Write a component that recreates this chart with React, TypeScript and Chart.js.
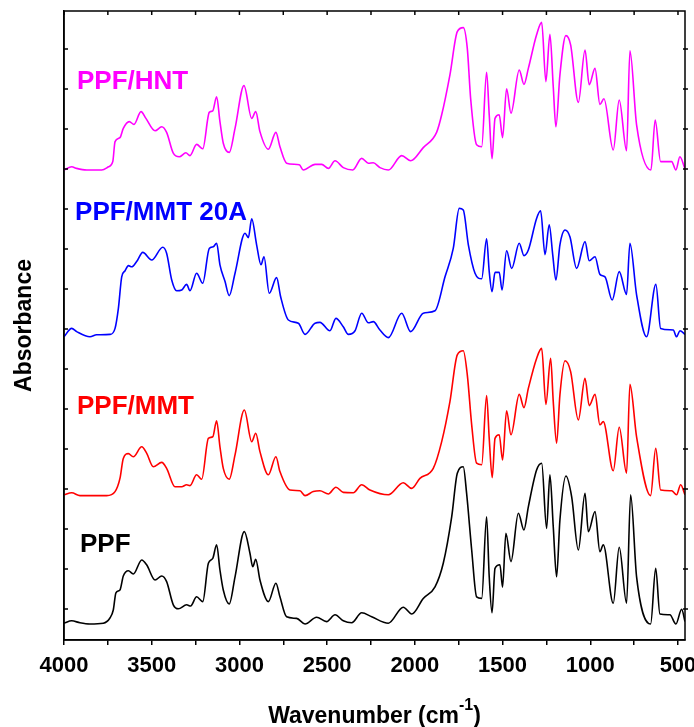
import React, { useEffect, useRef } from "react";
import { Chart, registerables } from "chart.js";

Chart.register(...registerables);

const FONT = "'Liberation Sans', Arial, Helvetica, sans-serif";

// ---- Data (wavenumber in cm-1, absorbance in offset arbitrary units) ----
const ppfWave = [4000,3956,3909,3852,3776,3738,3719,3704,3681,3662,3633,3605,3557,3529,3481,3443,3415,3377,3348,3301,3278,3244,3209,3177,3152,3130,3111,3092,3058,3025,2972,2940,2924,2907,2883,2835,2792,2769,2731,2674,2626,2560,2503,2455,2408,2360,2303,2246,2151,2066,2018,1952,1885,1838,1790,1758,1724,1705,1676,1648,1619,1591,1576,1560,1543,1515,1500,1481,1452,1410,1378,1353,1306,1277,1249,1230,1211,1192,1173,1139,1106,1068,1030,1011,973,945,926,869,835,793,770,736,656,627,603,546,512,479,460];
const ppfAbs = [0.42,0.48,0.43,0.40,0.42,0.55,0.75,1.18,1.25,1.60,1.73,1.65,2.00,1.88,1.50,1.60,1.46,0.88,0.78,0.88,0.85,1.08,0.96,1.92,2.04,2.38,1.75,1.25,0.90,1.58,2.71,2.17,1.83,2.02,1.50,0.96,1.42,1.08,0.58,0.54,0.40,0.57,0.46,0.63,0.48,0.43,0.68,0.58,0.42,0.82,0.65,1.04,1.33,1.92,3.08,4.17,4.33,3.67,2.25,1.08,1.04,3.08,1.58,0.68,1.79,1.88,1.32,2.67,1.96,3.17,2.75,3.33,4.25,4.42,2.79,4.13,2.83,1.58,3.00,4.10,3.58,2.25,3.67,2.71,3.21,2.21,2.38,0.92,2.32,0.92,3.63,1.58,0.40,1.79,0.65,0.63,0.40,0.77,0.46];

const mmtWave = [4000,3956,3909,3757,3709,3681,3662,3633,3605,3557,3529,3491,3443,3415,3367,3329,3301,3282,3244,3215,3177,3152,3130,3111,3092,3058,3025,2972,2930,2907,2883,2835,2792,2769,2712,2655,2626,2579,2541,2493,2450,2408,2351,2303,2256,2151,2066,2018,1971,1895,1847,1800,1758,1724,1701,1676,1648,1619,1591,1576,1559,1543,1519,1500,1477,1452,1405,1378,1353,1306,1277,1253,1226,1211,1192,1173,1144,1112,1068,1030,1006,973,945,926,869,835,793,774,736,656,627,599,536,508,485,460];
const mmtAbs = [3.63,3.68,3.61,3.61,3.71,4.04,4.54,4.66,4.58,4.83,4.67,4.33,4.44,4.29,3.83,3.83,3.88,3.86,4.13,4.02,5.04,5.08,5.48,4.83,4.29,4.02,4.63,5.75,4.96,5.17,4.71,4.13,4.58,4.21,3.75,3.73,3.61,3.71,3.73,3.65,3.82,3.69,3.68,3.88,3.75,3.63,3.93,3.79,4.04,4.29,4.96,5.96,7.13,7.23,6.63,5.38,4.42,4.38,6.11,5.04,4.06,5.04,5.13,4.50,5.73,5.13,6.14,5.81,6.29,7.04,7.29,5.89,7.04,5.96,4.92,6.13,6.98,6.71,5.50,6.54,5.86,6.14,5.38,5.46,4.23,5.32,4.17,6.39,5.08,3.61,4.79,3.75,3.73,3.63,3.88,3.63];

const mmt20aWave = [4000,3956,3928,3852,3814,3738,3709,3690,3671,3652,3633,3614,3586,3551,3500,3437,3415,3386,3358,3329,3301,3282,3244,3209,3172,3149,3130,3111,3082,3058,3025,2968,2949,2930,2902,2877,2860,2830,2788,2765,2721,2664,2626,2569,2541,2484,2450,2408,2379,2341,2303,2265,2237,2199,2151,2075,2024,1952,1885,1828,1781,1747,1724,1695,1657,1619,1591,1576,1560,1543,1519,1503,1477,1448,1405,1378,1353,1306,1283,1258,1234,1214,1196,1173,1144,1116,1078,1030,1006,973,945,916,875,835,793,774,736,679,626,599,527,508,489,460];
const mmt20aAbs = [7.58,7.79,7.71,7.58,7.63,7.64,7.79,8.29,9.08,9.23,9.36,9.33,9.46,9.69,9.50,9.82,9.67,9.00,8.73,8.75,8.89,8.73,9.17,8.92,9.79,9.83,9.92,9.38,8.96,8.61,9.17,10.17,10.06,10.53,9.88,9.38,9.58,8.67,9.06,8.58,8.00,7.92,7.64,7.92,7.94,7.73,8.04,7.83,7.64,7.73,8.17,7.93,7.96,7.75,7.56,8.17,7.71,8.17,8.23,9.08,9.79,10.79,10.75,9.88,9.17,9.03,10.03,9.21,8.71,9.19,9.19,8.75,9.73,9.29,9.92,9.61,9.75,10.54,10.73,9.63,10.38,9.63,9.00,9.88,10.25,10.08,9.29,9.96,9.48,9.58,9.14,9.08,8.50,9.21,8.64,9.92,8.63,7.58,8.89,7.79,7.75,7.58,7.73,7.64];

const hntWave = [4000,3956,3928,3871,3785,3747,3722,3709,3681,3662,3628,3601,3561,3533,3481,3443,3415,3377,3343,3305,3282,3244,3209,3172,3152,3130,3111,3092,3058,3025,2974,2930,2907,2883,2835,2792,2769,2731,2659,2636,2569,2531,2493,2455,2408,2354,2303,2265,2237,2199,2151,2075,2024,1952,1876,1847,1800,1758,1724,1701,1682,1648,1619,1591,1576,1560,1543,1519,1500,1477,1452,1405,1378,1353,1306,1277,1253,1230,1211,1196,1173,1139,1112,1068,1030,1006,973,945,922,869,835,793,774,736,654,630,599,536,512,489,460];
const hntAbs = [11.75,11.83,11.79,11.75,11.75,11.83,11.96,12.46,12.56,12.79,12.96,12.89,13.21,13.04,12.73,12.83,12.69,12.17,12.08,12.18,12.11,12.39,12.28,13.19,13.23,13.58,12.96,12.42,12.19,12.79,13.86,13.04,13.21,12.71,12.27,12.69,12.33,11.92,11.88,11.75,11.89,11.89,11.79,11.98,11.81,11.75,12.04,11.92,11.93,11.81,11.75,12.11,11.98,12.31,12.69,13.13,14.13,15.21,15.31,14.79,13.54,12.38,12.33,14.19,13.13,12.03,13.04,13.13,12.56,13.78,13.17,14.25,13.89,14.29,15.13,15.44,13.96,15.14,13.83,12.83,14.13,15.11,14.88,13.44,14.75,13.88,14.29,13.39,13.53,12.25,13.50,12.23,14.73,12.88,11.75,13.00,11.96,11.96,11.75,12.08,11.78];

const seriesNames = ["PPF", "PPF/MMT", "PPF/MMT 20A", "PPF/HNT"];
const seriesColors = ["#000000", "#ff0000", "#0000ff", "#ff00ff"];

const xTickValues = [500,750,1000,1250,1500,1750,2000,2250,2500,2750,3000,3250,3500,3750,4000];
const xLabelValues = [500,1000,1500,2000,2500,3000,3500,4000];
const yTickValues = [0.775,1.775,2.775,3.775,4.775,5.775,6.775,7.775,8.775,9.775,10.775,11.775,12.775,13.775,14.775];

// label anchors (wavenumber, absorbance) for the in-plot series names
const labelAnchors = [
  [3909, 2.38],
  [3926, 5.83],
  [3937, 10.68],
  [3926, 13.95],
];

const toPoints = (w: number[], a: number[]) => w.map((x, i) => ({ x, y: a[i] }));

const decorPlugin = {
  id: "decor",
  afterDraw(chart: any) {
    const { ctx, chartArea, scales } = chart;
    const { left, right, top, bottom } = chartArea;
    const xs = scales.x;
    const ys = scales.y;
    ctx.save();
    ctx.strokeStyle = "#000";
    ctx.lineWidth = 1.5;
    ctx.strokeRect(left, top, right - left, bottom - top);
    // top ticks (inward)
    xs.ticks.forEach((t: any) => {
      const px = xs.getPixelForValue(t.value);
      ctx.beginPath();
      ctx.moveTo(px, top);
      ctx.lineTo(px, top + 4);
      ctx.stroke();
    });
    // left/right ticks
    ys.ticks.forEach((t: any) => {
      const py = ys.getPixelForValue(t.value);
      ctx.beginPath();
      ctx.moveTo(left, py);
      ctx.lineTo(left + 4, py);
      ctx.moveTo(right - 2, py);
      ctx.lineTo(right + 3, py);
      ctx.stroke();
    });
    // series labels
    ctx.font = `bold 26px ${FONT}`;
    ctx.textBaseline = "middle";
    ctx.textAlign = "left";
    seriesNames.forEach((name, i) => {
      ctx.fillStyle = seriesColors[i];
      ctx.fillText(name, xs.getPixelForValue(labelAnchors[i][0]), ys.getPixelForValue(labelAnchors[i][1]));
    });
    // x axis title with superscript
    const main = "Wavenumber (cm";
    const sup = "-1";
    const tail = ")";
    const mainFont = `bold 23px ${FONT}`;
    const supFont = `bold 16px ${FONT}`;
    ctx.fillStyle = "#000";
    ctx.textBaseline = "alphabetic";
    ctx.font = mainFont;
    const wMain = ctx.measureText(main).width;
    const wTail = ctx.measureText(tail).width;
    ctx.font = supFont;
    const wSup = ctx.measureText(sup).width;
    const total = wMain + wSup + wTail;
    const x0 = (left + right) / 2 - total / 2;
    const base = 723;
    ctx.font = mainFont;
    ctx.fillText(main, x0, base);
    ctx.font = supFont;
    ctx.fillText(sup, x0 + wMain, base - 13);
    ctx.font = mainFont;
    ctx.fillText(tail, x0 + wMain + wSup, base);
    ctx.restore();
  },
};

export default function App() {
  const ref = useRef<HTMLCanvasElement | null>(null);
  useEffect(() => {
    if (!ref.current) return;
    const datasets = [
      toPoints(ppfWave, ppfAbs),
      toPoints(mmtWave, mmtAbs),
      toPoints(mmt20aWave, mmt20aAbs),
      toPoints(hntWave, hntAbs),
    ].map((data, i) => ({
      label: seriesNames[i],
      data,
      borderColor: seriesColors[i],
      backgroundColor: seriesColors[i],
      borderWidth: 1.6,
      pointRadius: 0,
      cubicInterpolationMode: "monotone",
      fill: false,
    }));
    const chart = new Chart(ref.current, {
      type: "line",
      data: { datasets },
      options: {
        animation: false,
        responsive: false,
        devicePixelRatio: 1,
        layout: { padding: { left: 0, right: 9, top: 11, bottom: 0 } },
        plugins: { legend: { display: false }, tooltip: { enabled: false } },
        scales: {
          x: {
            type: "linear",
            reverse: true,
            min: 460,
            max: 4000,
            afterBuildTicks: (s: any) => {
              s.ticks = xTickValues.map((v) => ({ value: v }));
            },
            afterFit: (s: any) => {
              s.height = 87;
            },
            ticks: {
              autoSkip: false,
              maxRotation: 0,
              padding: 8,
              color: "#000",
              font: { family: FONT, size: 22, weight: "bold" },
              callback: (v: any) => (xLabelValues.includes(Number(v)) ? String(v) : ""),
            },
            grid: { drawOnChartArea: false, drawTicks: true, tickLength: 5, color: "#000", lineWidth: 1.5 },
            border: { display: true, color: "#000", width: 1.5 },
            title: { display: false },
          },
          y: {
            type: "linear",
            min: 0,
            max: 15.725,
            afterBuildTicks: (s: any) => {
              s.ticks = yTickValues.map((v) => ({ value: v }));
            },
            afterFit: (s: any) => {
              s.width = 64;
            },
            ticks: { display: false },
            grid: { drawOnChartArea: false, drawTicks: false },
            border: { display: true, color: "#000", width: 1.5 },
            title: {
              display: true,
              text: "Absorbance",
              color: "#000",
              font: { family: FONT, size: 23, weight: "bold" },
              padding: { top: 11, bottom: 0 },
            },
          },
        },
      },
      plugins: [decorPlugin],
    } as any);
    return () => chart.destroy();
  }, []);
  return (
    <div style={{ position: "absolute", left: 0, top: 0, width: 694, height: 727, background: "#fff" }}>
      <canvas ref={ref} width={694} height={727} style={{ display: "block" }} />
    </div>
  );
}
